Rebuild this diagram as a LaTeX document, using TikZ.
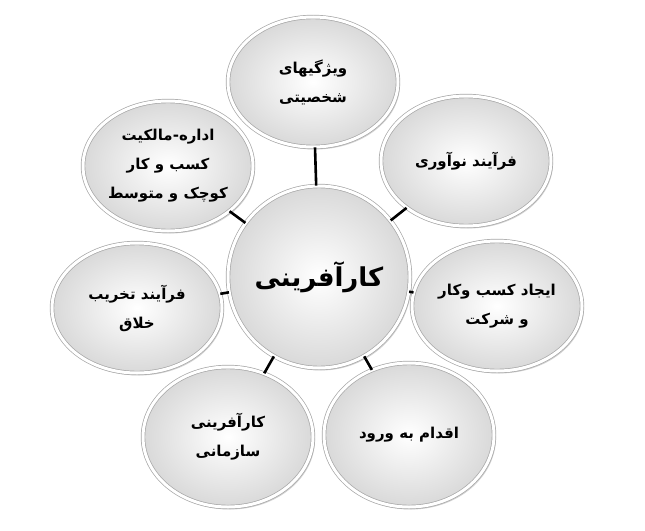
\documentclass[tikz,border=0pt]{standalone}
\usepackage{fontspec}
\usetikzlibrary{shapes.geometric,shadows}
\newfontfamily\farsi[Script=Arabic]{DejaVu Sans}
\TeXXeTstate=1

\tikzset{
  bubble/.style = {ellipse, draw=gray!70, line width=0.7pt,
    double=white, double distance=3pt,
    inner color=white, outer color=gray!30,
    drop shadow={opacity=0.35, shadow xshift=2pt, shadow yshift=-2.5pt},
    minimum width=170pt, minimum height=130pt, inner sep=0pt,
    align=center, font=\farsi\bfseries\fontsize{15}{29}\selectfont},
  link/.style = {line width=2.6pt, black}
}

\begin{document}
\begin{tikzpicture}[x=1pt, y=-1pt]
  \useasboundingbox (0,0) rectangle (645,530);

  % centre
  \node[bubble, circle, minimum size=182pt,
        font=\farsi\bfseries\fontsize{26}{30}\selectfont] (kar) at (319,277)
        {\beginR کارآفرینی\endR};

  % around
  \node[bubble] (vizhegi) at (313,82)
        {\beginR ویژگیهای\endR\\\beginR شخصیتی\endR};
  \node[bubble] (noavari) at (466,161)
        {\beginR فرآیند نوآوری\endR};
  \node[bubble] (ijad) at (497,306)
        {\beginR ایجاد کسب وکار\endR\\\beginR و شرکت\endR};
  \node[bubble, minimum height=144pt] (eqdam) at (409,435)
        {\beginR اقدام به ورود\endR};
  \node[bubble, minimum height=140pt] (sazmani) at (228,437)
        {\beginR کارآفرینی\endR\\\beginR سازمانی\endR};
  \node[bubble] (takhrib) at (137,308)
        {\beginR فرآیند تخریب\endR\\\beginR خلاق\endR};
  \node[bubble] (edare) at (168,166)
        {\beginR اداره-مالکیت\endR\\\beginR کسب و کار\endR\\\beginR کوچک و متوسط\endR};

  % links
  \foreach \n in {vizhegi,noavari,ijad,eqdam,sazmani,takhrib,edare}
    \draw[link] (kar) -- (\n);

\end{tikzpicture}
\end{document}
